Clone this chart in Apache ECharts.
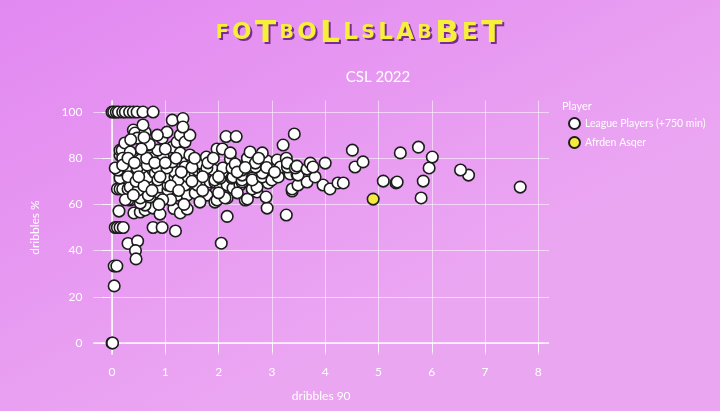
<!DOCTYPE html>
<html>
<head>
<meta charset="utf-8">
<script src="https://cdn.jsdelivr.net/npm/echarts@6/dist/echarts.min.js"></script>
<style>
html,body{margin:0;padding:0;}
#chart{width:720px;height:411px;}
</style>
</head>
<body>
<div id="chart"></div>
<script>
// ---- data (dribbles per 90, dribble success %) ----
var chartTitle = 'CSL 2022';
var xName = 'dribbles 90';
var yName = 'dribbles %';
var legendTitle = 'Player';
var seriesNames = ['League Players (+750 min)', 'Afrden Asqer'];
var xTicks = [0, 1, 2, 3, 4, 5, 6, 7, 8];
var yTicks = [0, 20, 40, 60, 80, 100];

var leaguePlayers = [
  [0,100],[0.03,100],[0.08,100],[0.12,100],[0.2,100],[0.25,100],[0.33,100],[0.4,100],[0.47,100],[0.58,100],[0.77,100],
  [0,0],[0.01,0],[0.04,24.7],[0.04,33.3],[0.09,33.3],[0.06,50],[0.1,50],[0.15,50],[0.21,50],[0.77,50],[0.94,50],[1.19,48.5],
  [0.3,43.1],[0.48,44.1],[0.44,40],[0.45,36.4],[2.05,43.2],
  [0.13,57.1],[0.41,56.3],[0.53,56.7],[0.62,57.6],[0.77,58.4],[0.9,55.8],[1.16,58.2],[1.28,56.3],[1.41,58],[2.16,54.8],[3.27,55.4],[2.91,58.4],[0.62,59.7],
  [0.34,61.9],[0.53,60.6],[0.53,62.8],[0.71,63.2],[0.68,64],[0.86,65.4],[1.22,64],[1.41,64],[1.56,64.9],[1.78,64],[1.93,61],[1.97,61.9],[2.16,62.8],[2.5,61.9],[2.54,62.3],[2.72,65.4],[2.89,63.2],[3.38,65.8],[5.8,62.8],[0.3,62],[2.12,62.8],
  [0.1,66.7],[0.15,66.7],[0.2,66.7],[0.3,66.7],[0.34,67.5],[0.49,66.2],[0.75,69.3],[0.9,67.5],[1.05,66.2],[1.05,68.4],[1.22,69.3],[1.37,68.4],[1.6,68.4],[1.78,68.4],[1.84,69.7],[1.93,69.7],[2.03,67.1],[2.16,68.4],[2.27,67.1],[2.4,68.4],[2.44,69.7],[2.63,66.7],[2.72,67.5],[2.93,69.3],[3.38,66.7],[3.49,68.4],[3.66,69.7],[3.96,68.4],[4.09,66.7],[4.24,69.3],[4.34,69.3],[5.33,69.3],[5.35,69.7],[7.66,67.5],
  [0.15,71.4],[0.15,74.9],[0.11,74.9],[0.06,75.8],[0.38,74.9],[0.53,74.9],[0.56,74.9],[0.68,70.6],[0.68,71.9],[0.77,74.9],[0.81,73.6],[0.86,70.6],[0.96,74.9],[1.05,71.4],[1.18,71.9],[1.18,74],[1.24,70.6],[1.41,72.7],[1.43,71.9],[1.56,73.6],[1.6,74.9],[1.71,74],[1.75,74.9],[1.9,74.9],[1.93,70.6],[2.03,71.4],[2.07,74],[2.25,71.4],[2.27,71.9],[2.44,70.6],[2.44,72.7],[2.44,74.9],[2.63,71.4],[2.63,70.6],[2.82,71.9],[2.82,73.6],[3.0,70.6],[3.12,71.9],[3.34,73.2],[3.47,73.2],[3.49,72.7],[3.81,71.9],[5.09,70.1],[5.84,70.1],[6.69,72.7],[6.54,74.9],
  [0.24,78.4],[0.28,76.2],[0.4,80],[0.47,75.8],[0.53,79.2],[0.66,77],[0.75,80],[0.85,75.8],[0.96,80.5],[1.03,75.8],[1.13,78.4],[1.31,80],[1.37,76.2],[1.65,77.9],[1.77,80.5],[1.78,75.8],[2.08,75.8],[2.22,79.7],[2.25,75.8],[2.31,77.5],[2.54,79.2],[2.54,80],[2.69,76.2],[2.69,77.9],[2.91,78.8],[3.1,79.2],[3.16,76.2],[3.27,80],[3.29,76.2],[3.29,77.9],[3.44,75.8],[3.47,76.6],[3.66,75.3],[3.72,77.9],[3.77,76.2],[4.0,77.9],[4.56,76.2],[4.71,78.4],[5.95,75.8],
  [0.15,81.4],[0.15,83.5],[0.19,83.5],[0.24,86.6],[0.34,82.7],[0.4,92.2],[0.43,90.9],[0.47,88.7],[0.62,91.3],[0.66,85.7],[0.86,83.5],[0.94,88.7],[1.03,91.3],[1.13,84.8],[1.22,87],[1.28,82.3],[1.28,90],[1.37,87],[1.46,81.4],[1.46,90],[1.97,84],[2.07,84],[2.22,82.3],[2.59,82.7],[2.82,82.3],[3.21,85.7],[4.51,83.5],[5.41,82.3],[5.75,84.8],[6.01,80.5],
  [0.58,94.4],[1.13,96.5],[1.33,97.2],[1.33,93.5],[2.14,89.4],[2.33,89.4],[3.42,90.5],
  [0.2,80],[0.3,72],[0.45,70],[0.6,68],[0.65,80],[0.8,78],[0.9,72],[1.0,78],[1.1,68],[1.2,80],[1.3,74],[1.5,76],[1.5,70],[1.7,72],[1.8,78],
  [0.25,62],[0.4,64],[0.5,72],[0.7,86],[0.55,84],[1.0,84],[1.1,62],[1.25,66],[1.55,80],[1.7,66],[0.35,88],[0.6,89],[0.85,90],[0.2,77],[0.95,62],
  [0.75,66],[0.3,80],[0.42,78],[1.9,80],[2.0,72],[2.35,74],[2.5,76],[2.9,76],[3.05,74],[2.75,80],[2.0,65],[2.35,65],[1.65,61],[1.35,60],[0.88,60]
];
var highlightPlayer = [[4.9, 62.3]];

// ---- chart ----
var FONT = 'Lato';
var chart = echarts.init(document.getElementById('chart'), null, {renderer: 'canvas'});

var logoLetters = ['F','O','T','B','O','L','L','S','L','A','B','B','E','T'];
var logoSizes   = ['s','m','b','s','m','b','m','s','m','m','s','b','m','b'];
var logoText = logoLetters.map(function(l, i){ return '{' + logoSizes[i] + '|' + l + '}'; }).join('{g| }');
function logoRich(color) {
  var base = {color: color, fontFamily: 'DejaVu Sans', fontWeight: 'bold', verticalAlign: 'middle'};
  return {
    s: Object.assign({fontSize: 19}, base),
    m: Object.assign({fontSize: 23}, base),
    b: Object.assign({fontSize: 31}, base),
    g: {fontSize: 12}
  };
}

var gridLine = {show: true, lineStyle: {color: 'rgba(255,255,255,0.55)', width: 1}};

var option = {
  backgroundColor: {
    type: 'linear', x: 0, y: 0, x2: 0.3, y2: 1,
    colorStops: [{offset: 0, color: '#e288f1'}, {offset: 1, color: '#eba6f2'}]
  },
  title: [
    {
      text: logoText, left: 356, top: 15, textAlign: 'center',
      textStyle: {rich: logoRich('#7a2c92')}
    },
    {
      text: logoText, left: 354, top: 13, textAlign: 'center',
      textStyle: {rich: logoRich('#f6f03a')}
    },
    {
      text: chartTitle, left: 373, top: 65, textAlign: 'center',
      textStyle: {color: '#ffffff', fontFamily: FONT, fontSize: 15, fontWeight: 'normal'}
    },
    {
      text: legendTitle, left: 557, top: 96,
      textStyle: {color: '#ffffff', fontFamily: FONT, fontSize: 11, fontWeight: 'normal'}
    }
  ],
  legend: {
    orient: 'vertical', left: 563, top: 112, itemWidth: 11, itemHeight: 11, itemGap: 6,
    icon: 'circle',
    textStyle: {color: '#ffffff', fontFamily: FONT, fontSize: 10.5, padding: [0, 0, 0, 0]},
    data: seriesNames
  },
  grid: {left: 93.4, right: 171, top: 100.5, bottom: 56.5, containLabel: false},
  xAxis: {
    type: 'value', min: -0.35, max: 8.2,
    name: xName, nameLocation: 'middle', nameGap: 36,
    nameTextStyle: {color: '#ffffff', fontFamily: FONT, fontSize: 12},
    axisLine: {show: false},
    axisTick: {show: true, customValues: xTicks, length: 9, lineStyle: {color: 'rgba(255,255,255,0.75)'}},
    axisLabel: {customValues: xTicks, color: '#ffffff', fontFamily: FONT, fontSize: 12, margin: 12},
    splitLine: gridLine
  },
  yAxis: {
    type: 'value', min: -5, max: 105,
    name: yName, nameLocation: 'middle', nameGap: 52, nameRotate: 90,
    nameTextStyle: {color: '#ffffff', fontFamily: FONT, fontSize: 12},
    axisLine: {show: false},
    axisTick: {show: true, customValues: yTicks, length: 10, lineStyle: {color: 'rgba(255,255,255,0.75)'}},
    axisLabel: {customValues: yTicks, color: '#ffffff', fontFamily: FONT, fontSize: 12, margin: 11},
    splitLine: gridLine
  },
  series: [
    {
      name: seriesNames[0], type: 'scatter', data: leaguePlayers, symbolSize: 11.5,
      itemStyle: {color: '#ffffff', borderColor: '#1c1c1c', borderWidth: 1.6, opacity: 1},
      markLine: {
        silent: true, symbol: 'none', label: {show: false},
        lineStyle: {color: 'rgba(255,255,255,0.9)', width: 1.6, type: 'solid'},
        data: [{xAxis: xTicks[0]}, {yAxis: yTicks[0]}],
        z: 1
      },
      z: 3
    },
    {
      name: seriesNames[1], type: 'scatter', data: highlightPlayer, symbolSize: 11.5,
      itemStyle: {color: '#f6ea3e', borderColor: '#1c1c1c', borderWidth: 1.6, opacity: 1},
      z: 4
    }
  ]
};
chart.setOption(option);
</script>
</body>
</html>
